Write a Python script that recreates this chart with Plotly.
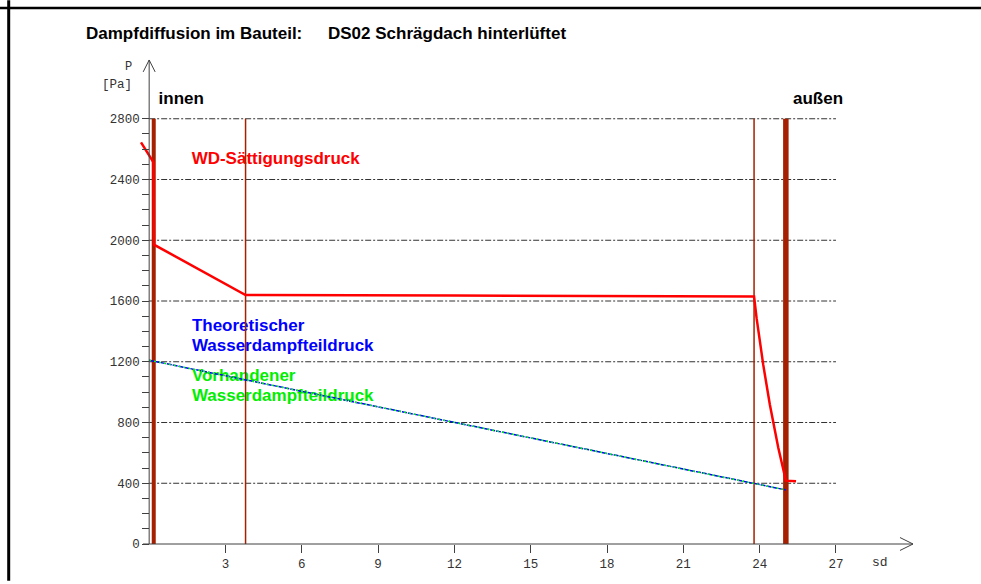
import plotly.graph_objects as go

# ---------------- data ----------------
sat_sd = [-0.32, 0.17, 0.19, 3.79, 12.0, 23.78, 23.88, 24.14, 24.40, 24.73, 25.03, 25.43]
sat_p = [2644, 2513, 1971, 1639, 1636, 1629, 1487, 1181, 919, 635, 417, 413]
theo_sd = [0.0, 25.03]
theo_p = [1210, 356]
vorh_sd = [0.0, 25.03]
vorh_p = [1210, 356]
layer_sd = [0.18, 3.79, 23.78, 25.03]
x_ticks = [3, 6, 9, 12, 15, 18, 21, 24, 27]
y_ticks = [0, 400, 800, 1200, 1600, 2000, 2400, 2800]
y_minor = [v for v in range(100, 2800, 100) if v % 400 != 0]
label_text = ["innen", "außen", "WD-Sättigungsdruck", "Theoretischer",
              "Wasserdampfteildruck", "Vorhandener", "Wasserdampfteildruck"]
label_sd = [0.37, 25.31, 1.67, 1.68, 1.68, 1.68, 1.68]
label_p = [2925, 2925, 2533, 1433, 1300, 1099, 972]

# ---------------- styles ----------------
label_colors = ["black", "black", "#FF0000", "#0000FF", "#0000FF", "#00EE00", "#00EE00"]
layer_widths = [4, 1.5, 1.5, 5.5]
LAYER_COL = "#A52000"
AX_COL = "#404040"
W, H = 981, 584
L, R, T, B = 111, 56, 58, 37
XR = [-1.5, 30.5]
YR = [0, 3200]
PW, PH = W - L - R, H - T - B


def px(x):
    return (x - L) / PW


def py(y):
    return (H - B - y) / PH


fig = go.Figure()

# labels (drawn under the lines)
fig.add_trace(go.Scatter(
    x=label_sd, y=label_p, mode="text", text=["<b>%s</b>" % t for t in label_text],
    textposition="middle right", hoverinfo="skip",
    textfont=dict(family="Liberation Sans", size=17, color=label_colors)))

# layer boundaries
for sd, w in zip(layer_sd, layer_widths):
    fig.add_trace(go.Scatter(x=[sd, sd], y=[0, 2800], mode="lines",
                             line=dict(color=LAYER_COL, width=w), hoverinfo="skip"))

fig.add_trace(go.Scatter(x=theo_sd, y=theo_p, mode="lines",
                         line=dict(color="#0000FF", width=1.5, dash="5px,1px"), hoverinfo="skip"))
fig.add_trace(go.Scatter(x=vorh_sd, y=vorh_p, mode="lines",
                         line=dict(color="#00FF00", width=1.5, dash="2px,3px"), hoverinfo="skip"))
fig.add_trace(go.Scatter(x=sat_sd, y=sat_p, mode="lines",
                         line=dict(color="#FF0000", width=2.5), hoverinfo="skip"))

shapes = []
for v in y_ticks[1:]:
    shapes.append(dict(type="line", xref="x", yref="y", x0=0, x1=27, y0=v, y1=v,
                       line=dict(color="#333333", width=1, dash="6px,2px,2px,2px"), layer="below"))

# axis lines with open arrowheads (pixel geometry)
x0px = L + (0 - XR[0]) / (XR[1] - XR[0]) * PW
shapes.append(dict(type="line", xref="paper", yref="paper", x0=px(x0px), x1=px(x0px),
                   y0=py(547), y1=py(60), line=dict(color=AX_COL, width=1)))
shapes.append(dict(type="path", xref="paper", yref="paper",
                   path="M %f,%f L %f,%f L %f,%f" % (px(x0px - 6), py(72), px(x0px), py(60), px(x0px + 6), py(72)),
                   line=dict(color=AX_COL, width=1)))
shapes.append(dict(type="line", xref="paper", yref="paper", x0=px(143), x1=px(913),
                   y0=py(547), y1=py(547), line=dict(color=AX_COL, width=1)))
shapes.append(dict(type="path", xref="paper", yref="paper",
                   path="M %f,%f L %f,%f L %f,%f" % (px(900), py(540.5), px(913), py(547), px(900), py(553.5)),
                   line=dict(color=AX_COL, width=1)))
# frame
shapes.append(dict(type="line", xref="paper", yref="paper", x0=px(0), x1=px(981),
                   y0=py(7.7), y1=py(7.7), line=dict(color="black", width=2.5)))
shapes.append(dict(type="line", xref="paper", yref="paper", x0=px(8.7), x1=px(8.7),
                   y0=py(0), y1=py(584), line=dict(color="black", width=3)))

annotations = [
    dict(text="<b>Dampfdiffusion im Bauteil:</b>", x=px(84), y=py(33), xref="paper", yref="paper",
         xanchor="left", yanchor="middle", showarrow=False,
         font=dict(family="Liberation Sans", size=17, color="black")),
    dict(text="<b>DS02 Schrägdach hinterlüftet</b>", x=px(326), y=py(33), xref="paper", yref="paper",
         xanchor="left", yanchor="middle", showarrow=False,
         font=dict(family="Liberation Sans", size=17, color="black")),
    dict(text="P", x=px(128), y=py(67), xref="paper", yref="paper",
         xanchor="center", yanchor="middle", showarrow=False,
         font=dict(family="Liberation Mono", size=12, color="#333333")),
    dict(text="[Pa]", x=px(133.5), y=py(85), xref="paper", yref="paper",
         xanchor="right", yanchor="middle", showarrow=False,
         font=dict(family="Liberation Mono", size=12.5, color="#333333")),
    dict(text="sd", x=px(870), y=py(566), xref="paper", yref="paper",
         xanchor="left", yanchor="middle", showarrow=False,
         font=dict(family="Liberation Mono", size=13, color="#333333")),
]

tickfont = dict(family="Liberation Mono", size=12.5, color="#333333")
fig.update_layout(
    width=W, height=H, margin=dict(l=L, r=R, t=T, b=B, pad=0),
    paper_bgcolor="white", plot_bgcolor="white", showlegend=False,
    shapes=shapes, annotations=annotations,
    xaxis=dict(range=XR, tickmode="array", tickvals=x_ticks, ticks="outside", ticklen=8,
               tickcolor=AX_COL, tickfont=tickfont, showgrid=False, zeroline=False,
               showline=False, fixedrange=True),
    yaxis=dict(range=YR, tickmode="array", tickvals=y_ticks, ticks="outside", ticklen=7,
               tickcolor=AX_COL, tickfont=tickfont, showgrid=False, zeroline=False,
               showline=False, anchor="free", position=(0 - XR[0]) / (XR[1] - XR[0]),
               minor=dict(tickvals=y_minor, ticks="outside", ticklen=7, tickcolor=AX_COL,
                          showgrid=False),
               fixedrange=True),
)

fig.write_html("out.html")
